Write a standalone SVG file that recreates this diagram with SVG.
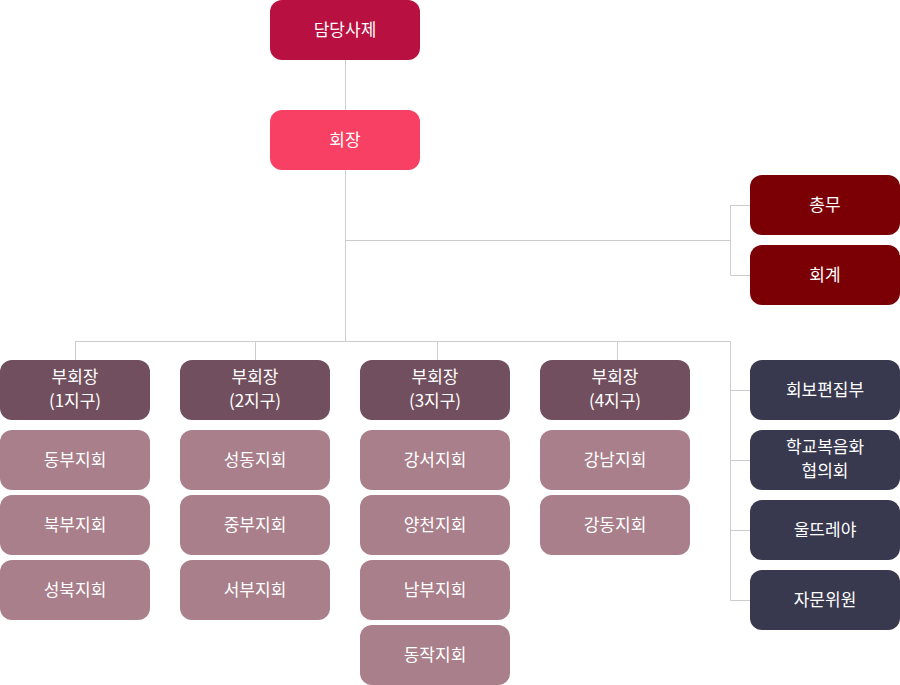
<svg xmlns="http://www.w3.org/2000/svg" width="900" height="685" viewBox="0 0 900 685">
<style>
.b rect{rx:12px;ry:12px}
text{font-family:"Noto Sans CJK KR","Noto Sans",sans-serif;font-size:17px;fill:#fff;text-anchor:middle}
.c{stroke:#cccccc;stroke-width:1;fill:none}
.top{fill:#b81040}.pres{fill:#f74063}.off{fill:#7a0006}.vp{fill:#714f5e}.br{fill:#a87f8a}.dk{fill:#38384e}
</style>
<rect width="900" height="685" fill="#fff"/>
<g id="connectors" class="c">
<path d="M345.5 60V110M345.5 170V341.5M345.5 240.5H730.5M730.5 205V275M730.5 205.5H750M730.5 275.5H750"/>
<path d="M75.5 341.5H730.5M75.5 341V360M255.5 341V360M437.5 341V360M617.5 341V360M730.5 341V600.5M730.5 390.5H750M730.5 460.5H750M730.5 530.5H750M730.5 600.5H750"/>
</g>
<g class="b">
<g id="n-top"><rect class="top" x="270" y="0" width="150" height="60"/><text x="345" y="36">담당사제</text></g>
<g id="n-pres"><rect class="pres" x="270" y="110" width="150" height="60"/><text x="345" y="146">회장</text></g>
<g id="n-gen"><rect class="off" x="750" y="175" width="150" height="60"/><text x="825" y="211">총무</text></g>
<g id="n-acc"><rect class="off" x="750" y="245" width="150" height="60"/><text x="825" y="281">회계</text></g>

<g id="n-vp1"><rect class="vp" x="0" y="360" width="150" height="60"/><text x="75" y="383">부회장</text><text x="75" y="407">(1지구)</text></g>
<g id="n-vp2"><rect class="vp" x="180" y="360" width="150" height="60"/><text x="255" y="383">부회장</text><text x="255" y="407">(2지구)</text></g>
<g id="n-vp3"><rect class="vp" x="360" y="360" width="150" height="60"/><text x="435" y="383">부회장</text><text x="435" y="407">(3지구)</text></g>
<g id="n-vp4"><rect class="vp" x="540" y="360" width="150" height="60"/><text x="615" y="383">부회장</text><text x="615" y="407">(4지구)</text></g>

<g id="n-1a"><rect class="br" x="0" y="430" width="150" height="60"/><text x="75" y="466">동부지회</text></g>
<g id="n-1b"><rect class="br" x="0" y="495" width="150" height="60"/><text x="75" y="531">북부지회</text></g>
<g id="n-1c"><rect class="br" x="0" y="560" width="150" height="60"/><text x="75" y="596">성북지회</text></g>

<g id="n-2a"><rect class="br" x="180" y="430" width="150" height="60"/><text x="255" y="466">성동지회</text></g>
<g id="n-2b"><rect class="br" x="180" y="495" width="150" height="60"/><text x="255" y="531">중부지회</text></g>
<g id="n-2c"><rect class="br" x="180" y="560" width="150" height="60"/><text x="255" y="596">서부지회</text></g>

<g id="n-3a"><rect class="br" x="360" y="430" width="150" height="60"/><text x="435" y="466">강서지회</text></g>
<g id="n-3b"><rect class="br" x="360" y="495" width="150" height="60"/><text x="435" y="531">양천지회</text></g>
<g id="n-3c"><rect class="br" x="360" y="560" width="150" height="60"/><text x="435" y="596">남부지회</text></g>
<g id="n-3d"><rect class="br" x="360" y="625" width="150" height="60"/><text x="435" y="661">동작지회</text></g>

<g id="n-4a"><rect class="br" x="540" y="430" width="150" height="60"/><text x="615" y="466">강남지회</text></g>
<g id="n-4b"><rect class="br" x="540" y="495" width="150" height="60"/><text x="615" y="531">강동지회</text></g>

<g id="n-r1"><rect class="dk" x="750" y="360" width="150" height="60"/><text x="825" y="396">회보편집부</text></g>
<g id="n-r2"><rect class="dk" x="750" y="430" width="150" height="60"/><text x="825" y="453">학교복음화</text><text x="825" y="477">협의회</text></g>
<g id="n-r3"><rect class="dk" x="750" y="500" width="150" height="60"/><text x="825" y="536">울뜨레야</text></g>
<g id="n-r4"><rect class="dk" x="750" y="570" width="150" height="60"/><text x="825" y="606">자문위원</text></g>
</g>
</svg>
